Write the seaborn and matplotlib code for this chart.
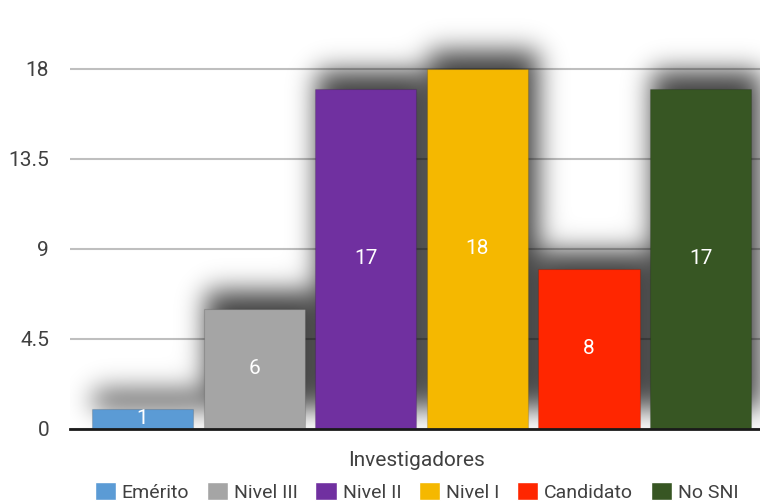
import numpy as np
import pandas as pd
import matplotlib
matplotlib.use('Agg')
import matplotlib.pyplot as plt
from matplotlib.patches import Patch
import seaborn as sns

# data
categorias = ['Emérito', 'Nivel III', 'Nivel II', 'Nivel I', 'Candidato', 'No SNI']
valores = [1, 6, 17, 18, 8, 17]
colores = ['#5B9BD5', '#A5A5A5', '#7030A0', '#F5B800', '#FF2600', '#375623']
y_ticks = [0, 4.5, 9, 13.5, 18]
y_tick_labels = ['0', '4.5', '9', '13.5', '18']

df = pd.DataFrame({'categoria': categorias, 'valor': valores})

sns.set_style('white')
plt.rcParams['font.family'] = ['Roboto', 'DejaVu Sans']
fs = 15
txt = '#404040'

fig = plt.figure(figsize=(7.6, 5.04), dpi=100)
ax = fig.add_axes([70 / 760, 75 / 504, 692 / 760, 420 / 504])

sns.barplot(data=df, x='categoria', y='valor', hue='categoria', palette=colores,
            saturation=1, width=0.905, legend=False, ax=ax, zorder=2,
            edgecolor='#00000022', linewidth=0.8)
for c in ax.containers:
    ax.bar_label(c, label_type='center', color='white', fontsize=fs)

xlim = (-0.65, 5.55)
ylim = (0, 21)

# soft shadow behind the bars (blurred copy of the bars, shifted up-right)
nx, ny = 692, 420
xs = xlim[0] + (np.arange(nx) + 0.5) * (xlim[1] - xlim[0]) / nx
ys = ylim[0] + (np.arange(ny) + 0.5) * (ylim[1] - ylim[0]) / ny
px_x = nx / (xlim[1] - xlim[0])
px_y = ny / (ylim[1] - ylim[0])
mask = np.zeros((ny, nx))
for p in ax.patches:
    x0 = p.get_x() + (6 - 4) / px_x
    x1 = p.get_x() + p.get_width() + (6 + 4) / px_x
    y0 = 20 / px_y
    y1 = p.get_height() + 18 / px_y
    mask[np.ix_((ys >= y0) & (ys <= y1), (xs >= x0) & (xs <= x1))] = 1
sig = 13
k = np.exp(-0.5 * (np.arange(-4 * sig, 4 * sig + 1) / sig) ** 2)
k /= k.sum()
blur = np.apply_along_axis(lambda r: np.convolve(r, k, mode='same'), 1, mask)
blur = np.apply_along_axis(lambda r: np.convolve(r, k, mode='same'), 0, blur)
rgba = np.zeros((ny, nx, 4))
rgba[..., 3] = np.clip(blur, 0, 1) * 0.75
ax.imshow(rgba, extent=[xlim[0], xlim[1], ylim[0], ylim[1]], origin='lower',
          aspect='auto', interpolation='bilinear', zorder=1)
ax.set_xlim(*xlim)
ax.set_ylim(*ylim)

ax.set_yticks(y_ticks)
ax.set_yticklabels(y_tick_labels, color=txt, fontsize=fs)
ax.tick_params(axis='y', length=0, pad=15)
ax.set_xticks([])
ax.yaxis.grid(True, color='#BFBFBF', linewidth=1.5, zorder=0)
ax.set_axisbelow(True)
for s in ['top', 'right', 'left']:
    ax.spines[s].set_visible(False)
ax.spines['bottom'].set_color('#1a1a1a')
ax.spines['bottom'].set_linewidth(2)
ax.spines['bottom'].set_zorder(3)
ax.set_xlabel('Investigadores', color=txt, fontsize=fs, labelpad=16)
ax.set_ylabel('')

handles = [Patch(facecolor=c) for c in colores]
fig.legend(handles, categorias, loc='lower center', ncol=6, frameon=False,
           bbox_to_anchor=(0.548, -0.03), fontsize=14, labelcolor=txt,
           handlelength=1.1, handleheight=1.1, handletextpad=0.3, columnspacing=0.9)

fig.savefig('out.png', dpi=100)
